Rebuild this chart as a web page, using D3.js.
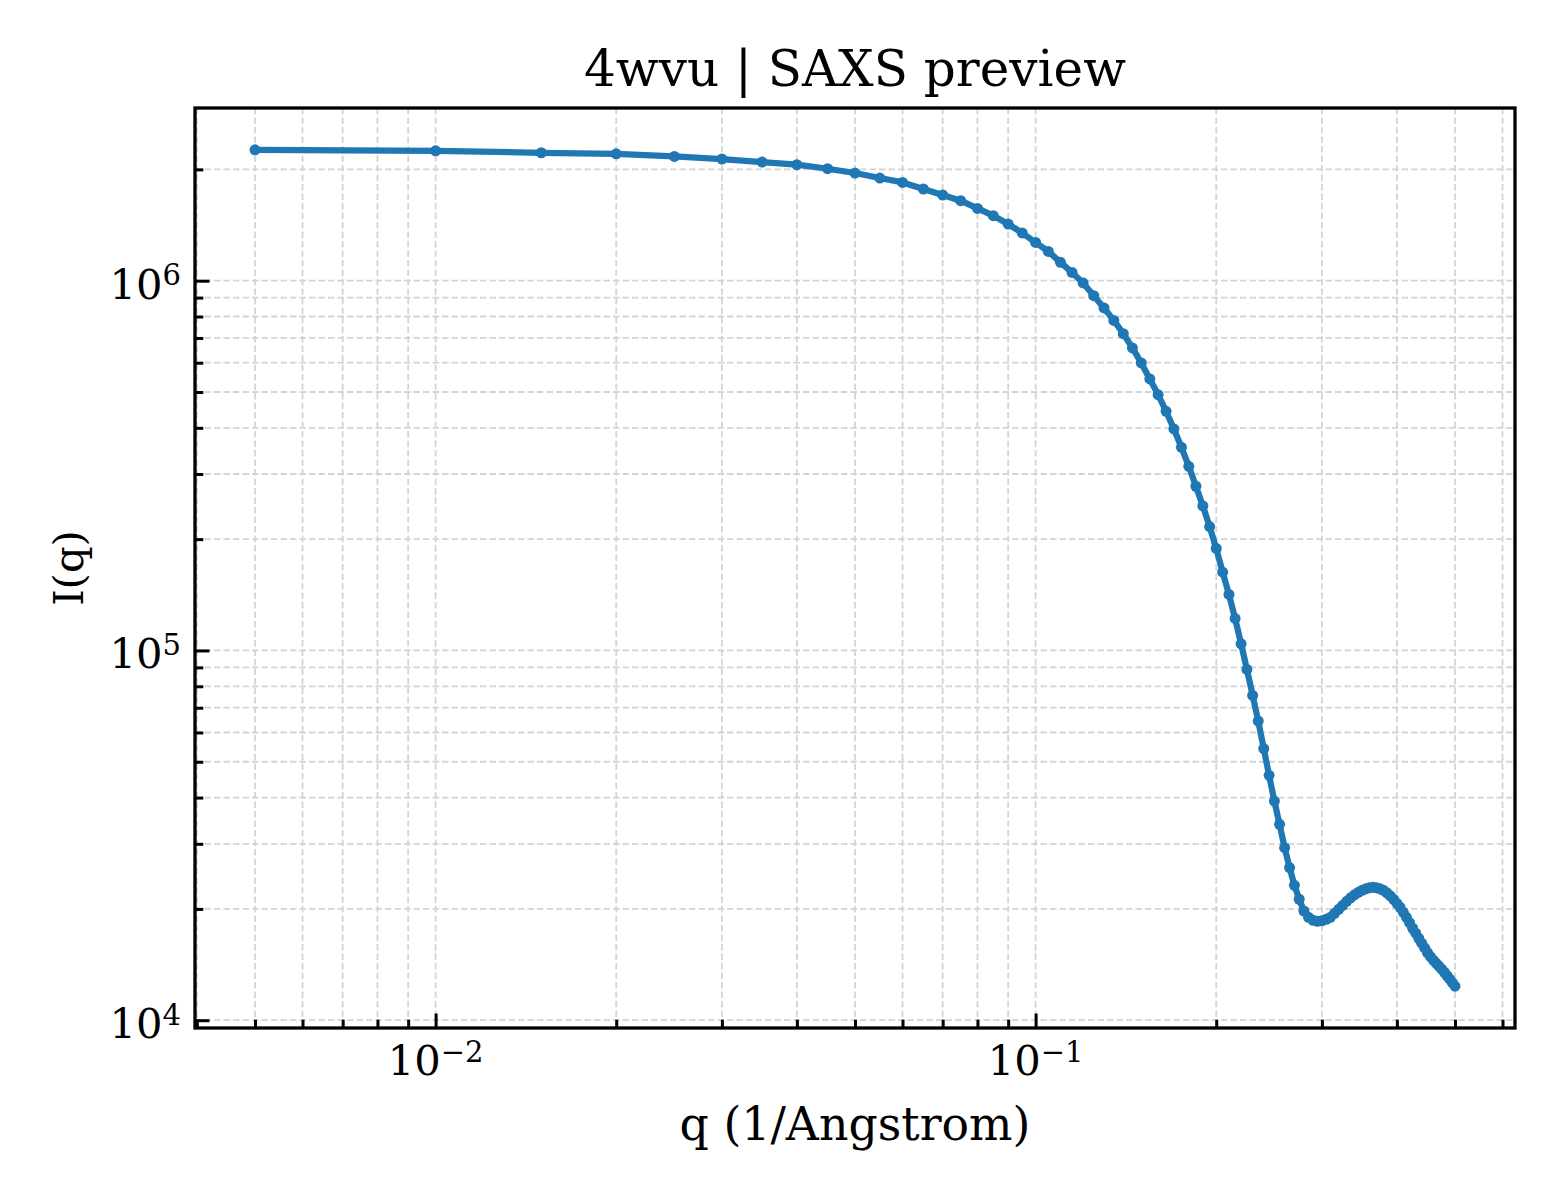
<!DOCTYPE html>
<html>
<head>
<meta charset="utf-8">
<script src="https://cdn.jsdelivr.net/npm/d3@7/dist/d3.min.js"></script>
<style>
  body { margin: 0; background: #fff; }
  text { font-family: 'DejaVu Serif', serif; fill: #000; }
</style>
</head>
<body>
<svg id="chart" width="1560" height="1200"></svg>
<script>
// q values (1/Angstrom)
const qValues = [
  0.005, 0.010, 0.015, 0.020, 0.025, 0.030, 0.035, 0.040, 0.045, 0.050,
  0.055, 0.060, 0.065, 0.070, 0.075, 0.080, 0.085, 0.090, 0.095, 0.100,
  0.105, 0.110, 0.115, 0.120, 0.125, 0.130, 0.135, 0.140, 0.145, 0.150,
  0.155, 0.160, 0.165, 0.170, 0.175, 0.180, 0.185, 0.190, 0.195, 0.200,
  0.205, 0.210, 0.215, 0.220, 0.225, 0.230, 0.235, 0.240, 0.245, 0.250,
  0.255, 0.260, 0.265, 0.270, 0.275, 0.280, 0.285, 0.290, 0.295, 0.300,
  0.305, 0.310, 0.315, 0.320, 0.325, 0.330, 0.335, 0.340, 0.345, 0.350,
  0.355, 0.360, 0.365, 0.370, 0.375, 0.380, 0.385, 0.390, 0.395, 0.400,
  0.405, 0.410, 0.415, 0.420, 0.425, 0.430, 0.435, 0.440, 0.445, 0.450,
  0.455, 0.460, 0.465, 0.470, 0.475, 0.480, 0.485, 0.490, 0.495, 0.500
]

// I(q) values
const intensity = [
  2.259e6, 2.245e6, 2.218e6, 2.204e6, 2.168e6, 2.133e6, 2.093e6, 2.059e6, 2.008e6, 1.955e6,
  1.895e6, 1.844e6, 1.770e6, 1.705e6, 1.646e6, 1.568e6, 1.499e6, 1.423e6, 1.346e6, 1.269e6,
  1.200e6, 1.121e6, 1.053e6, 9.858e5, 9.108e5, 8.437e5, 7.808e5, 7.189e5, 6.578e5, 5.991e5,
  5.423e5, 4.918e5, 4.432e5, 3.972e5, 3.543e5, 3.148e5, 2.780e5, 2.460e5, 2.163e5, 1.887e5,
  1.628e5, 1.417e5, 1.221e5, 1.042e5, 8.885e4, 7.556e4, 6.440e4, 5.424e4, 4.594e4, 3.915e4,
  3.387e4, 2.929e4, 2.587e4, 2.316e4, 2.124e4, 1.974e4, 1.898e4, 1.863e4, 1.852e4, 1.857e4,
  1.875e4, 1.898e4, 1.946e4, 1.995e4, 2.045e4, 2.097e4, 2.143e4, 2.183e4, 2.218e4, 2.245e4,
  2.267e4, 2.281e4, 2.288e4, 2.281e4, 2.267e4, 2.245e4, 2.211e4, 2.170e4, 2.124e4, 2.071e4,
  2.020e4, 1.958e4, 1.898e4, 1.835e4, 1.773e4, 1.719e4, 1.666e4, 1.615e4, 1.570e4, 1.522e4,
  1.485e4, 1.453e4, 1.426e4, 1.400e4, 1.374e4, 1.348e4, 1.319e4, 1.291e4, 1.263e4, 1.236e4
]

const xMajorTicks = [1e-2, 1e-1]
const yMajorTicks = [1e4, 1e5, 1e6]

const title = '4wvu | SAXS preview'
const xLabel = 'q (1/Angstrom)'
const yLabel = 'I(q)'

const margin = { top: 108, right: 45, bottom: 172, left: 195 }
const width = 1560 - margin.left - margin.right
const height = 1200 - margin.top - margin.bottom
const color = '#1f77b4'

/**
 * Log domain padded by 5% of the span on each side, like matplotlib does.
 *
 * @param {number[]} values The values to cover
 * @returns {number[]} The padded domain
 */
function paddedLogDomain (values) {
  const [lo, hi] = d3.extent(values).map(Math.log10)
  const pad = (hi - lo) * 0.05
  return [Math.pow(10, lo - pad), Math.pow(10, hi + pad)]
}

/**
 * All 2..9 x 10^k ticks inside the domain of a log scale.
 *
 * @param {*} scale The log scale
 * @returns {number[]} Minor tick values
 */
function minorTicks (scale) {
  const [a, b] = scale.domain()
  const out = []
  for (let e = Math.floor(Math.log10(a)); e <= Math.ceil(Math.log10(b)); e++) {
    for (let m = 2; m <= 9; m++) {
      const v = m * Math.pow(10, e)
      if (v >= a && v <= b) out.push(v)
    }
  }
  return out
}

/**
 * Writes "10" with the exponent as superscript.
 */
function powerLabel (sel, v) {
  const e = Math.round(Math.log10(v))
  sel.append('tspan').text('10')
  sel.append('tspan')
    .attr('dy', -13.5)
    .style('font-size', '29px')
    .text(e < 0 ? '\u2212' + Math.abs(e) : String(e))
}

const data = qValues.map((q, i) => ({ q: q, I: intensity[i] }))

const xScale = d3.scaleLog().domain(paddedLogDomain(qValues)).range([0, width])
const yScale = d3.scaleLog().domain(paddedLogDomain(intensity)).range([height, 0])

const svg = d3.select('#chart')
const g = svg.append('g').attr('transform', `translate(${margin.left},${margin.top})`)

// grid, major and minor alike
const xGrid = xMajorTicks.concat(minorTicks(xScale))
const yGrid = yMajorTicks.concat(minorTicks(yScale))
const grid = g.append('g').attr('class', 'grid')
  .attr('stroke', '#d4d4d4')
  .attr('stroke-width', 1.8)
  .attr('stroke-dasharray', '6.5,3')
grid.selectAll('line.gx').data(xGrid).enter().append('line')
  .attr('class', 'gx')
  .attr('x1', d => xScale(d)).attr('x2', d => xScale(d))
  .attr('y1', 0).attr('y2', height)
grid.selectAll('line.gy').data(yGrid).enter().append('line')
  .attr('class', 'gy')
  .attr('y1', d => yScale(d)).attr('y2', d => yScale(d))
  .attr('x1', 0).attr('x2', width)

// curve
const line = d3.line().x(d => xScale(d.q)).y(d => yScale(d.I))
g.append('path')
  .datum(data)
  .attr('fill', 'none')
  .attr('stroke', color)
  .attr('stroke-width', 6.25)
  .attr('stroke-linejoin', 'round')
  .attr('d', line)

g.selectAll('circle').data(data).enter().append('circle')
  .attr('cx', d => xScale(d.q))
  .attr('cy', d => yScale(d.I))
  .attr('r', 5.5)
  .attr('fill', color)

// axes: inward ticks on left and bottom only
const xAxis = g.append('g').attr('transform', `translate(0,${height})`)
xAxis.call(d3.axisBottom(xScale).tickValues(xMajorTicks).tickSizeInner(-14.5).tickSizeOuter(0).tickFormat(''))
xAxis.append('g').call(d3.axisBottom(xScale).tickValues(minorTicks(xScale)).tickSizeInner(-8.3).tickSizeOuter(0).tickFormat(''))
xAxis.selectAll('.tick line').attr('stroke', '#000').attr('stroke-width', 3)
xAxis.selectAll('.domain').remove()
xAxis.selectAll('text.xl').data(xMajorTicks).enter().append('text')
  .attr('class', 'xl')
  .attr('x', d => xScale(d))
  .attr('y', 47)
  .attr('text-anchor', 'middle')
  .style('font-size', '41.7px')
  .each(function (d) { powerLabel(d3.select(this), d) })

const yAxis = g.append('g')
yAxis.call(d3.axisLeft(yScale).tickValues(yMajorTicks).tickSizeInner(-14.5).tickSizeOuter(0).tickFormat(''))
yAxis.append('g').call(d3.axisLeft(yScale).tickValues(minorTicks(yScale)).tickSizeInner(-8.3).tickSizeOuter(0).tickFormat(''))
yAxis.selectAll('.tick line').attr('stroke', '#000').attr('stroke-width', 3)
yAxis.selectAll('.domain').remove()
yAxis.selectAll('text.yl').data(yMajorTicks).enter().append('text')
  .attr('class', 'yl')
  .attr('x', -14)
  .attr('y', d => yScale(d) + 18)
  .attr('text-anchor', 'end')
  .style('font-size', '41.7px')
  .each(function (d) { powerLabel(d3.select(this), d) })

// frame
g.append('rect')
  .attr('width', width).attr('height', height)
  .attr('fill', 'none').attr('stroke', '#000').attr('stroke-width', 3.3)

// labels
svg.append('text')
  .attr('x', margin.left + width / 2).attr('y', 86)
  .attr('text-anchor', 'middle')
  .style('font-size', '50px')
  .text(title)

svg.append('text')
  .attr('x', margin.left + width / 2).attr('y', 1140)
  .attr('text-anchor', 'middle')
  .style('font-size', '45.8px')
  .text(xLabel)

svg.append('text')
  .attr('transform', `translate(83,${margin.top + height / 2}) rotate(-90)`)
  .attr('text-anchor', 'middle')
  .style('font-size', '41.7px')
  .text(yLabel)
</script>
</body>
</html>
